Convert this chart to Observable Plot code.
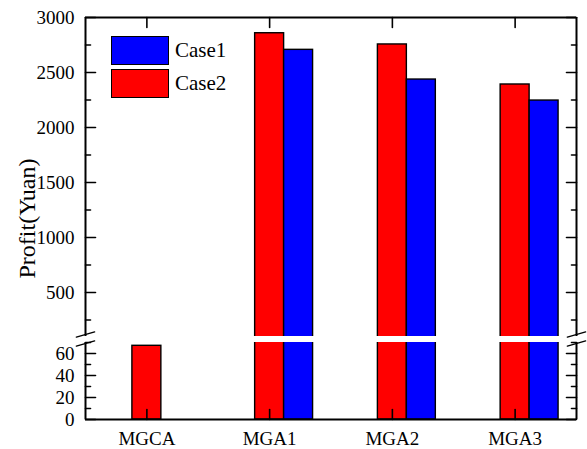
<!DOCTYPE html>
<html>
<head>
<meta charset="utf-8">
<script src="https://cdn.jsdelivr.net/npm/d3@7"></script>
<script src="https://cdn.jsdelivr.net/npm/@observablehq/plot@0.6"></script>
<style>
  body { margin: 0; background: #fff; }
  #chart { position: relative; width: 587px; height: 449px; font-family: "Liberation Serif", "Times New Roman", serif; }
  #chart svg { display: block; }
  .legend { position: absolute; left: 111px; top: 34px; }
  .legend .row { display: flex; align-items: center; height: 33px; }
  .legend .swatch { width: 56px; height: 27px; border: 1.5px solid #000; box-sizing: content-box; }
  .legend .name { margin-left: 6px; font-size: 21px; color: #000; line-height: 1; }
</style>
</head>
<body>
<div id="chart"></div>
<script>
// Microgrid systems on the x axis
const systems = ["MGCA", "MGA1", "MGA2", "MGA3"];
// Profit (Yuan) per system; MGCA has no Case1 bar
const case1 = [null, 2706, 2436, 2245];
const case2 = [67, 2857, 2755, 2391];
// Axis ticks of the broken y axis (lower part 0–70, upper part 100–3000)
const lowerTicks = [0, 20, 40, 60];
const lowerMinor = [10, 30, 50, 70];
const upperTicks = [500, 1000, 1500, 2000, 2500, 3000];
const upperMinor = [250, 750, 1250, 1750, 2250, 2750];
const seriesNames = ["Case1", "Case2"];
const seriesColors = ["#0000ff", "#ff0000"];

const serif = "Liberation Serif";
const barW = 0.236; // bar width in category units
const bars = [];
systems.forEach((s, i) => {
  if (case2[i] != null) bars.push({i, series: "Case2", value: case2[i], x1: i - barW / 2, x2: i + barW / 2});
  if (case1[i] != null) bars.push({i, series: "Case1", value: case1[i], x1: i + barW / 2, x2: i + 1.5 * barW});
});

const line = {draw(ctx, l) { ctx.moveTo(0, 0); ctx.lineTo(0, -l); }};
const xL = -0.5, xR = systems.length - 0.5;
const yTop = 3000;
const majors = [...lowerTicks, ...upperTicks];
const minors = [...lowerMinor, ...upperMinor];
const idx = systems.map((_, i) => i);
const tickW = 1.6;

const chart = Plot.plot({
  width: 587,
  height: 449,
  marginLeft: 85,
  marginRight: 11,
  marginTop: 17,
  marginBottom: 30,
  style: {fontFamily: serif, fontSize: "19px", color: "#000", background: "#fff", overflow: "visible"},
  x: {type: "linear", domain: [xL, xR], range: [85, 576], axis: null},
  y: {type: "linear", domain: [0, 70, 100, 3000], range: [419, 342, 336, 17], axis: null},
  color: {domain: seriesNames, range: seriesColors},
  marks: [
    Plot.rectY(bars, {x1: "x1", x2: "x2", y1: 0, y2: "value", fill: "series", stroke: "#000", strokeWidth: 1.4}),
    // white band that marks the axis break
    Plot.rectY([0], {x1: xL, x2: xR, y1: 70, y2: 100, fill: "#fff"}),
    // axis lines, interrupted at the break
    Plot.ruleX([xL, xR], {y1: 0, y2: 70, stroke: "#000", strokeWidth: 2}),
    Plot.ruleX([xL, xR], {y1: 100, y2: yTop, stroke: "#000", strokeWidth: 2}),
    Plot.ruleY([0, yTop], {x1: xL, x2: xR, stroke: "#000", strokeWidth: 2}),
    // inward ticks on all four sides
    Plot.vector(majors, {x: xL, y: d => d, length: 10, rotate: 90, anchor: "start", shape: line, strokeWidth: tickW}),
    Plot.vector(minors, {x: xL, y: d => d, length: 5, rotate: 90, anchor: "start", shape: line, strokeWidth: tickW}),
    Plot.vector(majors, {x: xR, y: d => d, length: 10, rotate: -90, anchor: "start", shape: line, strokeWidth: tickW}),
    Plot.vector(minors, {x: xR, y: d => d, length: 5, rotate: -90, anchor: "start", shape: line, strokeWidth: tickW}),
    Plot.vector(idx, {x: d => d, y: 0, length: 10, rotate: 0, anchor: "start", shape: line, strokeWidth: tickW}),
    Plot.vector(idx, {x: d => d, y: yTop, length: 10, rotate: 180, anchor: "start", shape: line, strokeWidth: tickW}),
    // break slashes on both vertical axes
    Plot.vector([xL, xR], {x: d => d, y: 100, dy: -2, length: 19, rotate: 74, anchor: "middle", shape: line, strokeWidth: 1.4}),
    Plot.vector([xL, xR], {x: d => d, y: 70, dy: 1, length: 19, rotate: 74, anchor: "middle", shape: line, strokeWidth: 1.4}),
    // tick labels
    Plot.text(majors, {x: xL, y: d => d, text: d => String(d), textAnchor: "end", dx: -11, fontSize: 19, fontFamily: serif, fill: "#000"}),
    Plot.text(idx, {x: d => d, y: 0, text: i => systems[i], lineAnchor: "top", dy: 12, fontSize: 19, fontFamily: serif, fill: "#000"}),
    Plot.text(["Profit(Yuan)"], {frameAnchor: "left", textAnchor: "middle", lineAnchor: "middle", rotate: -90, dx: -58, dy: 0, fontSize: 24, fontFamily: serif, fill: "#000"})
  ]
});

const root = document.getElementById("chart");
root.appendChild(chart);

// legend drawn inside the plot area
const legend = document.createElement("div");
legend.className = "legend";
seriesNames.forEach((name, k) => {
  const row = document.createElement("div");
  row.className = "row";
  const sw = document.createElement("div");
  sw.className = "swatch";
  sw.style.background = seriesColors[k];
  const label = document.createElement("span");
  label.className = "name";
  label.textContent = name;
  row.append(sw, label);
  legend.appendChild(row);
});
root.appendChild(legend);
</script>
</body>
</html>
